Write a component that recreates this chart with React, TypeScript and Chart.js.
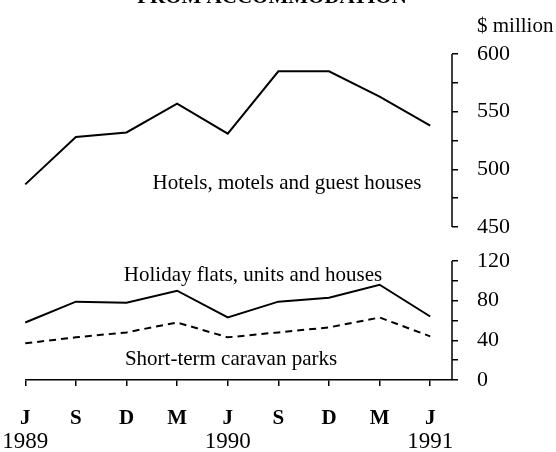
import React, { useEffect, useRef } from "react";
import { Chart, registerables } from "chart.js";

Chart.register(...registerables);

const months = ["J", "S", "D", "M", "J", "S", "D", "M", "J"];
const years = ["1989", "", "", "", "1990", "", "", "", "1991"];
const hotels = [487, 528, 532, 557, 531, 585, 585, 563, 538];
const holiday = [58, 79, 78, 90, 63, 79, 83, 96, 64];
const caravan = [37, 43, 48, 58, 43, 48, 53, 63, 44];
const upperTicks = [450, 475, 500, 525, 550, 575, 600];
const upperLabelled = [450, 500, 550, 600];
const lowerTicks = [0, 20, 40, 60, 80, 100, 120];
const lowerLabelled = [0, 40, 80, 120];
const titleText = "FROM ACCOMMODATION";
const unitText = "$ million";
const hotelsLabel = "Hotels, motels and guest houses";
const holidayLabel = "Holiday flats, units and houses";
const caravanLabel = "Short-term caravan parks";

const SERIF = '"Liberation Serif", "DejaVu Serif", serif';

const toPoints = (arr: number[]) => arr.map((v, i) => ({ x: i, y: v }));

const annotate = {
  id: "annotate",
  afterDraw(chart: any) {
    const ctx = chart.ctx;
    const area = chart.chartArea;
    const xs = chart.scales.x;
    const yu = chart.scales.yUpper;
    const yl = chart.scales.yLower;
    ctx.save();
    ctx.fillStyle = "#000";
    ctx.strokeStyle = "#000";
    // axis lines
    ctx.lineWidth = 1.5;
    ctx.beginPath();
    ctx.moveTo(area.right, yu.getPixelForValue(upperTicks[upperTicks.length - 1]));
    ctx.lineTo(area.right, yu.getPixelForValue(upperTicks[0]));
    ctx.moveTo(area.right, yl.getPixelForValue(lowerTicks[lowerTicks.length - 1]));
    ctx.lineTo(area.right, yl.getPixelForValue(lowerTicks[0]));
    ctx.stroke();
    // title (clipped at top)
    ctx.textAlign = "center";
    ctx.textBaseline = "alphabetic";
    ctx.font = `bold 21px ${SERIF}`;
    ctx.fillText(titleText, 272, 3);
    // unit
    ctx.textAlign = "left";
    ctx.font = `21px ${SERIF}`;
    ctx.fillText(unitText, 477, 32);
    // series labels
    ctx.textAlign = "center";
    ctx.font = `21px ${SERIF}`;
    ctx.fillText(hotelsLabel, 287, 189);
    ctx.fillText(holidayLabel, 253, 281);
    ctx.fillText(caravanLabel, 231, 365);
    // years
    ctx.font = `23px ${SERIF}`;
    years.forEach((yr, i) => {
      if (yr) ctx.fillText(yr, xs.getPixelForValue(i), 448);
    });
    ctx.restore();
  },
};

export default function App() {
  const ref = useRef<HTMLCanvasElement>(null);
  useEffect(() => {
    const canvas = ref.current;
    if (!canvas) return;
    const chart = new Chart(canvas, {
      type: "line",
      data: {
        datasets: [
          {
            data: toPoints(hotels),
            yAxisID: "yUpper",
            borderColor: "#000",
            borderWidth: 2,
            pointRadius: 0,
            tension: 0,
            clip: false as any,
          },
          {
            data: toPoints(holiday),
            yAxisID: "yLower",
            borderColor: "#000",
            borderWidth: 2,
            pointRadius: 0,
            tension: 0,
            clip: false as any,
          },
          {
            data: toPoints(caravan),
            yAxisID: "yLower",
            borderColor: "#000",
            borderWidth: 2,
            borderDash: [7, 5],
            pointRadius: 0,
            tension: 0,
            clip: false as any,
          },
        ],
      },
      options: {
        responsive: false,
        devicePixelRatio: 1,
        animation: false,
        layout: { padding: { top: 54, left: 25, right: 0, bottom: 0 } },
        plugins: { legend: { display: false }, tooltip: { enabled: false }, title: { display: false } },
        scales: {
          x: {
            type: "linear",
            min: 0,
            max: 8.43,
            afterBuildTicks: (s: any) => {
              s.ticks = months.map((_, i) => ({ value: i }));
            },
            afterFit: (s: any) => {
              s.height = 72;
            },
            border: { display: true, color: "#000", width: 1.5 },
            grid: { display: true, drawOnChartArea: false, drawTicks: true, tickLength: 6, color: "#000", lineWidth: 1.5 },
            ticks: {
              color: "#000",
              padding: 20,
              maxRotation: 0,
              autoSkip: false,
              font: { family: SERIF, size: 21, weight: "bold" },
              callback: (v: any) => months[Math.round(Number(v))] ?? "",
            },
          },
          yUpper: {
            type: "linear",
            position: "right",
            stack: "s",
            stackWeight: 190,
            min: 435.3,
            max: 600,
            afterBuildTicks: (s: any) => {
              s.ticks = upperTicks.map((v) => ({ value: v }));
            },
            afterFit: (s: any) => {
              s.width = 104;
            },
            border: { display: false },
            grid: { display: true, drawOnChartArea: false, drawTicks: true, tickLength: 6, color: "#000", lineWidth: 1.5 },
            ticks: {
              color: "#000",
              padding: 19,
              autoSkip: false,
              font: { family: SERIF, size: 22 },
              callback: (v: any) => (upperLabelled.includes(Number(v)) ? String(v) : ""),
            },
          },
          yLower: {
            type: "linear",
            position: "right",
            stack: "s",
            stackWeight: 136,
            min: 0,
            max: 137.1,
            afterBuildTicks: (s: any) => {
              s.ticks = lowerTicks.map((v) => ({ value: v }));
            },
            afterFit: (s: any) => {
              s.width = 104;
            },
            border: { display: false },
            grid: { display: true, drawOnChartArea: false, drawTicks: true, tickLength: 6, color: "#000", lineWidth: 1.5 },
            ticks: {
              color: "#000",
              padding: 19,
              autoSkip: false,
              font: { family: SERIF, size: 22 },
              callback: (v: any) => (lowerLabelled.includes(Number(v)) ? String(v) : ""),
            },
          },
        },
      } as any,
      plugins: [annotate],
    });
    return () => chart.destroy();
  }, []);
  return (
    <div style={{ position: "absolute", left: 0, top: 0, width: 556, height: 452, background: "#fff" }}>
      <canvas ref={ref} width={556} height={452} style={{ display: "block" }} />
    </div>
  );
}
